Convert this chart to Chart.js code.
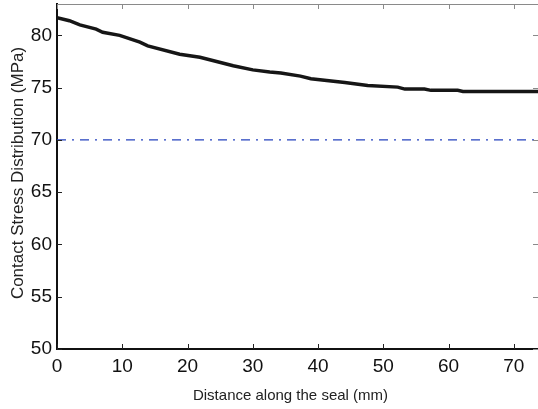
<!DOCTYPE html>
<html>
<head>
<meta charset="utf-8">
<script src="https://cdn.jsdelivr.net/npm/chart.js@4/dist/chart.umd.min.js"></script>
<style>
  html, body { margin: 0; padding: 0; background: #fff; }
  #wrap { width: 538px; height: 409px; }
</style>
</head>
<body>
<div id="wrap"><canvas id="myChart" width="538" height="409"></canvas></div>
<script>
// distance along the seal (mm) and contact stress (MPa)
const distance = [0, 1.9, 3.5, 6.0, 7.0, 9.6, 12.7, 13.9, 18.8, 21.9, 27.0, 30.0, 32.6, 34.3, 37.3, 38.9, 44.1, 47.6, 52.2, 53.3, 56.3, 57.3, 61.4, 62.2, 73.7];
const stress = [81.7, 81.4, 81.0, 80.6, 80.3, 80.0, 79.35, 79.0, 78.2, 77.9, 77.1, 76.7, 76.5, 76.4, 76.1, 75.85, 75.5, 75.2, 75.05, 74.86, 74.86, 74.74, 74.74, 74.64, 74.64];

// reference level (dash-dot line)
const refX = [0, 73.7];
const refY = [70, 70];

const xTicks = [0, 10, 20, 30, 40, 50, 60, 70];
const yTicks = [50, 55, 60, 65, 70, 75, 80];

const xTitle = "Distance along the seal (mm)";
const yTitle = "Contact Stress Distribution (MPa)";

const FONT = "'Liberation Sans', Arial, sans-serif";

// matlab style inward ticks, top box line and axis titles
const boxTicks = {
  id: "boxTicks",
  afterDraw: (chart) => {
    const ctx = chart.ctx;
    const { left, right, top, bottom } = chart.chartArea;
    const xs = chart.scales.x;
    const ys = chart.scales.y;
    ctx.save();
    ctx.lineWidth = 1;
    ctx.strokeStyle = "#8a8a8a";
    ctx.beginPath();
    ctx.moveTo(left, top + 0.5);
    ctx.lineTo(right, top + 0.5);
    xTicks.forEach((v) => {
      const px = Math.round(xs.getPixelForValue(v)) + 0.5;
      ctx.moveTo(px, top);
      ctx.lineTo(px, top + 5);
    });
    yTicks.forEach((v) => {
      const py = Math.round(ys.getPixelForValue(v)) + 0.5;
      ctx.moveTo(right, py);
      ctx.lineTo(right - 5, py);
    });
    ctx.stroke();

    ctx.strokeStyle = "#222";
    ctx.beginPath();
    xTicks.forEach((v) => {
      const px = Math.round(xs.getPixelForValue(v)) + 0.5;
      ctx.moveTo(px, bottom);
      ctx.lineTo(px, bottom - 5);
    });
    yTicks.forEach((v) => {
      const py = Math.round(ys.getPixelForValue(v)) + 0.5;
      ctx.moveTo(left, py);
      ctx.lineTo(left + 5, py);
    });
    ctx.stroke();

    // axis titles
    ctx.fillStyle = "#222";
    ctx.textAlign = "center";
    ctx.textBaseline = "alphabetic";
    ctx.font = "15px " + FONT;
    ctx.fillText(xTitle, 290.5, 400);

    ctx.translate(23, 173);
    ctx.rotate(-Math.PI / 2);
    ctx.font = "17px " + FONT;
    ctx.fillText(yTitle, 0, 0);
    ctx.restore();
  },
};

const ctx = document.getElementById("myChart");

const noPad = (s) => {
  s.paddingTop = 0;
  s.paddingBottom = 0;
  s.paddingLeft = 0;
  s.paddingRight = 0;
};

new Chart(ctx, {
  type: "scatter",
  data: {
    datasets: [
      {
        label: "Contact stress",
        data: distance.map((x, i) => ({ x: x, y: stress[i] })),
        showLine: true,
        borderColor: "#161616",
        borderWidth: 3.5,
        pointRadius: 0,
        tension: 0,
      },
      {
        label: "Reference",
        data: refX.map((x, i) => ({ x: x, y: refY[i] })),
        showLine: true,
        borderColor: "#2442bd",
        borderWidth: 1.4,
        borderDash: [9, 6, 2, 6],
        pointRadius: 0,
      },
    ],
  },
  options: {
    responsive: false,
    animation: false,
    devicePixelRatio: 1,
    layout: { padding: { top: 4, right: 0, left: 0, bottom: 0 } },
    plugins: {
      legend: { display: false },
      tooltip: { enabled: false },
    },
    scales: {
      x: {
        type: "linear",
        min: 0,
        max: 73.7,
        afterFit: (s) => { s.height = 60; noPad(s); },
        afterBuildTicks: (s) => { s.ticks = xTicks.map((v) => ({ value: v })); },
        grid: { display: false, drawTicks: false },
        border: { display: true, color: "#111", width: 2 },
        ticks: {
          color: "#111",
          padding: 6,
          maxRotation: 0,
          font: { family: FONT, size: 19 },
        },
      },
      y: {
        type: "linear",
        min: 50,
        max: 83,
        afterFit: (s) => { s.width = 57; noPad(s); },
        afterBuildTicks: (s) => { s.ticks = yTicks.map((v) => ({ value: v })); },
        grid: { display: false, drawTicks: false },
        border: { display: true, color: "#111", width: 2 },
        ticks: {
          color: "#111",
          padding: 5,
          font: { family: FONT, size: 19 },
        },
      },
    },
  },
  plugins: [boxTicks],
});
</script>
</body>
</html>
